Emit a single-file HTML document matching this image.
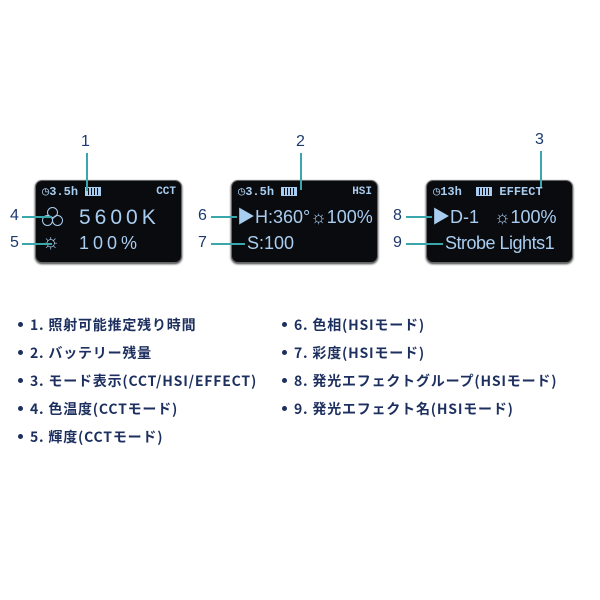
<!DOCTYPE html>
<html><head><meta charset="utf-8"><style>
body{margin:0;width:600px;height:600px;background:#fff;position:relative;overflow:hidden;font-family:"Liberation Sans","Noto Sans CJK JP",sans-serif}
.scr{position:absolute;top:180px;width:145px;height:81px;background:#0a0b0e;border:1.5px solid #666;border-radius:7px;box-shadow:0 1px 2px #333;color:#a9cdf0;overflow:hidden}
.t{position:absolute;white-space:nowrap;line-height:1}
.n{position:absolute;color:#1c3a6e;font-size:16px;line-height:1}
.l{position:absolute;background:#3aa7ad}
.li{position:absolute;color:#1c2f5e;font-size:14px;letter-spacing:0.8px;white-space:nowrap;line-height:1;font-family:"Noto Sans CJK JP","Liberation Sans",sans-serif;font-weight:bold}
.li:before{content:"";display:inline-block;width:5px;height:5px;border-radius:50%;background:#1c2f5e;margin-right:7px;vertical-align:middle;position:relative;top:-2px}
.bat{display:inline-block;width:14px;height:7px;border:1.5px solid #a9cdf0;background:repeating-linear-gradient(90deg,#a9cdf0 0 2px,#0a0b0e 2px 3px);vertical-align:middle}
.c{position:absolute;width:9px;height:9px;border:1.5px solid #a9cdf0;border-radius:50%}
</style></head><body>

<div class="scr" style="left:35px">
 <div class="t" style="left:6px;top:5px;font-size:12px;font-family:'Liberation Mono',monospace;font-weight:bold">◷3.5h <span class="bat"></span></div>
 <div class="t" style="right:5px;top:6px;font-size:11px;font-weight:bold;font-family:'Liberation Mono',monospace">CCT</div>
 <div class="c" style="left:11px;top:26px"></div><div class="c" style="left:6px;top:34px"></div><div class="c" style="left:16px;top:34px"></div>
 <div class="t" style="left:43px;top:26px;font-size:21px;letter-spacing:4px">5600K</div>
 <div class="t" style="left:5px;top:50px;font-size:21px">☼</div>
 <div class="t" style="left:43px;top:53px;font-size:18px;letter-spacing:4px">100%</div>
</div>
<div class="scr" style="left:231px">
 <div class="t" style="left:6px;top:5px;font-size:12px;font-family:'Liberation Mono',monospace;font-weight:bold">◷3.5h <span class="bat"></span></div>
 <div class="t" style="right:5px;top:6px;font-size:11px;font-weight:bold;font-family:'Liberation Mono',monospace">HSI</div>
 <div class="t" style="left:5px;top:27px;font-size:18px">▶H:360°☼100%</div>
 <div class="t" style="left:15px;top:53px;font-size:18px">S:100</div>
</div>
<div class="scr" style="left:426px">
 <div class="t" style="left:6px;top:5px;font-size:12px;font-family:'Liberation Mono',monospace;font-weight:bold">◷13h &nbsp;<span class="bat"></span> EFFECT</div>
 <div class="t" style="left:5px;top:27px;font-size:18px">▶D-1 &nbsp;&nbsp;☼100%</div>
 <div class="t" style="left:18px;top:53px;font-size:18px;letter-spacing:-0.5px">Strobe Lights1</div>
</div>

<div class="n" style="left:81px;top:134px">1</div><div class="l" style="left:86px;top:153px;width:1.5px;height:38px"></div>
<div class="n" style="left:296px;top:134px">2</div><div class="l" style="left:300px;top:153px;width:1.5px;height:37px"></div>
<div class="n" style="left:535px;top:132px">3</div><div class="l" style="left:540px;top:151px;width:1.5px;height:36px"></div>
<div class="n" style="left:10px;top:208px">4</div><div class="l" style="left:22px;top:216px;width:30px;height:1.5px"></div>
<div class="n" style="left:10px;top:235px">5</div><div class="l" style="left:22px;top:243px;width:30px;height:1.5px"></div>
<div class="n" style="left:198px;top:208px">6</div><div class="l" style="left:211px;top:216px;width:26px;height:1.5px"></div>
<div class="n" style="left:198px;top:235px">7</div><div class="l" style="left:211px;top:243px;width:34px;height:1.5px"></div>
<div class="n" style="left:393px;top:208px">8</div><div class="l" style="left:406px;top:216px;width:26px;height:1.5px"></div>
<div class="n" style="left:393px;top:235px">9</div><div class="l" style="left:406px;top:243px;width:37px;height:1.5px"></div>

<div class="li" style="left:18px;top:318px">1. 照射可能推定残り時間</div>
<div class="li" style="left:18px;top:346px">2. バッテリー残量</div>
<div class="li" style="left:18px;top:374px">3. モード表示(CCT/HSI/EFFECT)</div>
<div class="li" style="left:18px;top:402px">4. 色温度(CCTモード)</div>
<div class="li" style="left:18px;top:430px">5. 輝度(CCTモード)</div>
<div class="li" style="left:282px;top:318px">6. 色相(HSIモード)</div>
<div class="li" style="left:282px;top:346px">7. 彩度(HSIモード)</div>
<div class="li" style="left:282px;top:374px">8. 発光エフェクトグループ(HSIモード)</div>
<div class="li" style="left:282px;top:402px">9. 発光エフェクト名(HSIモード)</div>
</body></html>
